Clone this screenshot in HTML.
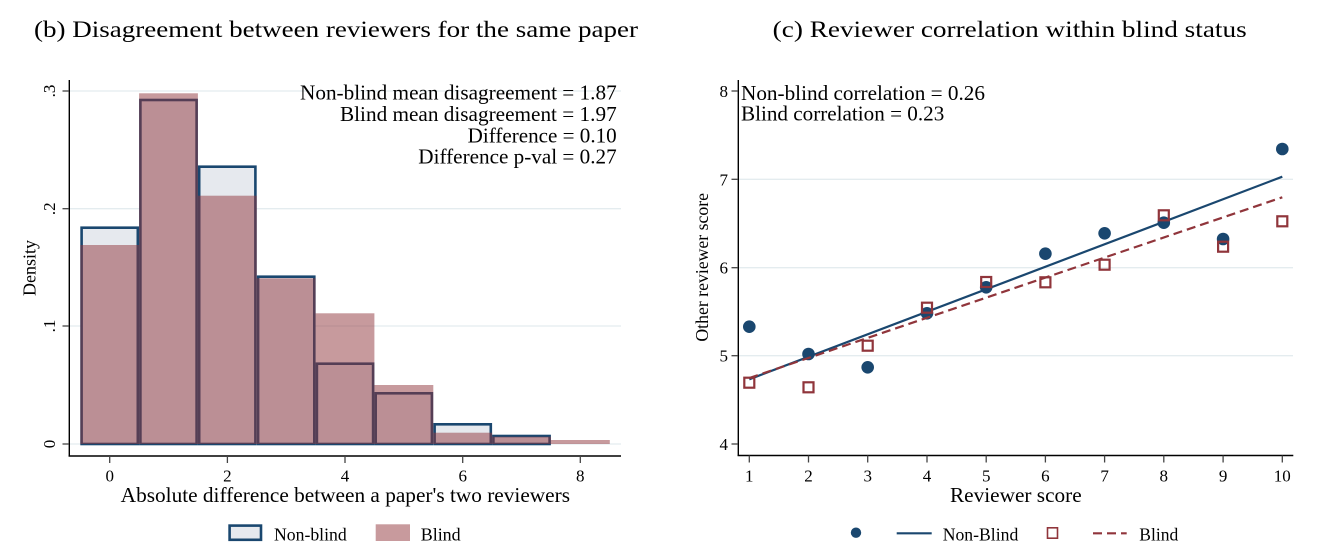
<!DOCTYPE html>
<html><head><meta charset="utf-8"><style>
html,body{margin:0;padding:0;background:#fff;}
svg{display:block;}
text{font-family:"Liberation Serif","DejaVu Serif",serif;fill:#000;}
</style></head><body>
<svg width="1334" height="550" viewBox="0 0 1334 550" xmlns="http://www.w3.org/2000/svg">
<rect width="1334" height="550" fill="#fff"/>

<!-- Titles -->
<text x="34" y="37" font-size="23" textLength="604" lengthAdjust="spacingAndGlyphs">(b) Disagreement between reviewers for the same paper</text>
<text x="772.7" y="37" font-size="23" textLength="474" lengthAdjust="spacingAndGlyphs">(c) Reviewer correlation within blind status</text>

<!-- ===== LEFT PANEL ===== -->
<g stroke="#e4ecef" stroke-width="1.3">
<line x1="70" y1="91" x2="621" y2="91"/>
<line x1="70" y1="208.7" x2="621" y2="208.7"/>
<line x1="70" y1="326" x2="621" y2="326"/>
<line x1="70" y1="444" x2="621" y2="444"/>
</g>

<!-- Non-blind bars -->
<g fill="#e6e9ee" stroke="#1a476f" stroke-width="2.6">
<rect x="81.6" y="227.7" width="56.2" height="216.3"/>
<rect x="140.4" y="100" width="56.2" height="344"/>
<rect x="199.2" y="166.7" width="56.2" height="277.3"/>
<rect x="258.1" y="276.7" width="56.2" height="167.3"/>
<rect x="316.9" y="363.7" width="56.2" height="80.3"/>
<rect x="375.7" y="393.3" width="56.2" height="50.7"/>
<rect x="434.6" y="424.3" width="56.2" height="19.7"/>
<rect x="493.4" y="436" width="56.2" height="8"/>
</g>
<!-- Blind bars -->
<g fill="#90353b" fill-opacity="0.5">
<rect x="80.3" y="245" width="58.8" height="199"/>
<rect x="139.1" y="93.3" width="58.8" height="350.7"/>
<rect x="197.9" y="195.7" width="58.9" height="248.3"/>
<rect x="256.8" y="278.3" width="58.8" height="165.7"/>
<rect x="315.6" y="313.3" width="58.8" height="130.7"/>
<rect x="374.4" y="385" width="58.9" height="59"/>
<rect x="433.3" y="432.7" width="58.8" height="11.3"/>
<rect x="492.1" y="436.7" width="58.8" height="7.3"/>
<rect x="550.9" y="440" width="58.9" height="4"/>
</g>

<!-- Left axes -->
<g stroke="#000" stroke-width="1.4" fill="none">
<line x1="69.3" y1="80" x2="69.3" y2="456.5"/>
<line x1="68.6" y1="456" x2="621" y2="456"/>
</g>
<g stroke="#444" stroke-width="1.3">
<line x1="62.5" y1="91" x2="69" y2="91"/>
<line x1="62.5" y1="208.7" x2="69" y2="208.7"/>
<line x1="62.5" y1="326" x2="69" y2="326"/>
<line x1="62.5" y1="444" x2="69" y2="444"/>
<line x1="109.7" y1="456" x2="109.7" y2="463"/>
<line x1="227.4" y1="456" x2="227.4" y2="463"/>
<line x1="345" y1="456" x2="345" y2="463"/>
<line x1="462.7" y1="456" x2="462.7" y2="463"/>
<line x1="580.3" y1="456" x2="580.3" y2="463"/>
</g>
<g font-size="17" text-anchor="middle">
<text transform="translate(55,91) rotate(-90)">.3</text>
<text transform="translate(55,208.7) rotate(-90)">.2</text>
<text transform="translate(55,326) rotate(-90)">.1</text>
<text transform="translate(55,444) rotate(-90)">0</text>
<text x="109.7" y="481.5">0</text>
<text x="227.4" y="481.5">2</text>
<text x="345" y="481.5">4</text>
<text x="462.7" y="481.5">6</text>
<text x="580.3" y="481.5">8</text>
</g>
<text transform="translate(35.5,268) rotate(-90)" font-size="18" text-anchor="middle" textLength="56" lengthAdjust="spacingAndGlyphs">Density</text>
<text x="120.7" y="502" font-size="21" textLength="449.3" lengthAdjust="spacingAndGlyphs">Absolute difference between a paper's two reviewers</text>

<!-- Left annotation -->
<g font-size="21">
<text x="300" y="99.3" textLength="316.7" lengthAdjust="spacingAndGlyphs">Non-blind mean disagreement = 1.87</text>
<text x="340" y="121" textLength="276.7" lengthAdjust="spacingAndGlyphs">Blind mean disagreement = 1.97</text>
<text x="467.7" y="142.3" textLength="149" lengthAdjust="spacingAndGlyphs">Difference = 0.10</text>
<text x="418.3" y="163.3" textLength="198.4" lengthAdjust="spacingAndGlyphs">Difference p-val = 0.27</text>
</g>

<!-- Left legend -->
<rect x="229.6" y="525.6" width="31.4" height="14.2" fill="#e6e9ee" stroke="#1a476f" stroke-width="2.6"/>
<text x="274" y="540.5" font-size="18" textLength="72.7" lengthAdjust="spacingAndGlyphs">Non-blind</text>
<rect x="375.7" y="524.3" width="34.3" height="16.7" fill="#c89a9d"/>
<text x="420.7" y="540.5" font-size="18" textLength="40" lengthAdjust="spacingAndGlyphs">Blind</text>

<!-- ===== RIGHT PANEL ===== -->
<g stroke="#e4ecef" stroke-width="1.3">
<line x1="739" y1="179.3" x2="1293" y2="179.3"/>
<line x1="739" y1="267.7" x2="1293" y2="267.7"/>
<line x1="739" y1="355.7" x2="1293" y2="355.7"/>
</g>

<!-- Non-blind points -->
<g fill="#1a476f">
<circle cx="749.3" cy="326.7" r="6.3"/>
<circle cx="808.5" cy="354" r="6.3"/>
<circle cx="867.7" cy="367.3" r="6.3"/>
<circle cx="927" cy="313.3" r="6.3"/>
<circle cx="986.2" cy="287.3" r="6.3"/>
<circle cx="1045.4" cy="253.7" r="6.3"/>
<circle cx="1104.6" cy="233.3" r="6.3"/>
<circle cx="1163.8" cy="222.7" r="6.3"/>
<circle cx="1223.1" cy="239" r="6.3"/>
<circle cx="1282.3" cy="149" r="6.3"/>
</g>
<line x1="749.3" y1="379.3" x2="1282.3" y2="176.7" stroke="#1a476f" stroke-width="2.2"/>
<!-- Blind points -->
<g fill="none" stroke="#90353b" stroke-width="2.2">
<rect x="744.3" y="377.7" width="10" height="10"/>
<rect x="803.5" y="382.3" width="10" height="10"/>
<rect x="862.7" y="340.7" width="10" height="10"/>
<rect x="922" y="302.7" width="10" height="10"/>
<rect x="981.2" y="277" width="10" height="10"/>
<rect x="1040.4" y="277.3" width="10" height="10"/>
<rect x="1099.6" y="259.7" width="10" height="10"/>
<rect x="1158.8" y="210.3" width="10" height="10"/>
<rect x="1218.1" y="241.7" width="10" height="10"/>
<rect x="1277.3" y="216.3" width="10" height="10"/>
</g>
<line x1="749.3" y1="378" x2="1282.3" y2="197.3" stroke="#90353b" stroke-width="2.2" stroke-dasharray="9,5"/>

<!-- Right axes -->
<g stroke="#000" stroke-width="1.4" fill="none">
<line x1="738.3" y1="80" x2="738.3" y2="456"/>
<line x1="737.6" y1="455.5" x2="1293.3" y2="455.5"/>
</g>
<g stroke="#444" stroke-width="1.3">
<line x1="731.5" y1="91" x2="738" y2="91"/>
<line x1="731.5" y1="179.3" x2="738" y2="179.3"/>
<line x1="731.5" y1="267.7" x2="738" y2="267.7"/>
<line x1="731.5" y1="355.7" x2="738" y2="355.7"/>
<line x1="731.5" y1="444" x2="738" y2="444"/>
<line x1="749.3" y1="455.5" x2="749.3" y2="462.5"/>
<line x1="808.5" y1="455.5" x2="808.5" y2="462.5"/>
<line x1="867.7" y1="455.5" x2="867.7" y2="462.5"/>
<line x1="927" y1="455.5" x2="927" y2="462.5"/>
<line x1="986.2" y1="455.5" x2="986.2" y2="462.5"/>
<line x1="1045.4" y1="455.5" x2="1045.4" y2="462.5"/>
<line x1="1104.6" y1="455.5" x2="1104.6" y2="462.5"/>
<line x1="1163.8" y1="455.5" x2="1163.8" y2="462.5"/>
<line x1="1223.1" y1="455.5" x2="1223.1" y2="462.5"/>
<line x1="1282.3" y1="455.5" x2="1282.3" y2="462.5"/>
</g>
<g font-size="17" text-anchor="end">
<text x="728" y="97">8</text>
<text x="728" y="185.3">7</text>
<text x="728" y="273.7">6</text>
<text x="728" y="361.7">5</text>
<text x="728" y="450">4</text>
</g>
<g font-size="17" text-anchor="middle">
<text x="749.3" y="481.5">1</text>
<text x="808.5" y="481.5">2</text>
<text x="867.7" y="481.5">3</text>
<text x="927" y="481.5">4</text>
<text x="986.2" y="481.5">5</text>
<text x="1045.4" y="481.5">6</text>
<text x="1104.6" y="481.5">7</text>
<text x="1163.8" y="481.5">8</text>
<text x="1223.1" y="481.5">9</text>
<text x="1282.3" y="481.5">10</text>
</g>
<text transform="translate(708,267.3) rotate(-90)" font-size="18" text-anchor="middle" textLength="148.7" lengthAdjust="spacingAndGlyphs">Other reviewer score</text>
<text x="950" y="502" font-size="21" textLength="131.7" lengthAdjust="spacingAndGlyphs">Reviewer score</text>

<!-- Right annotation -->
<g font-size="21">
<text x="741" y="100" textLength="244" lengthAdjust="spacingAndGlyphs">Non-blind correlation = 0.26</text>
<text x="741" y="120.7" textLength="203.3" lengthAdjust="spacingAndGlyphs">Blind correlation = 0.23</text>
</g>

<!-- Right legend -->
<circle cx="856" cy="532.7" r="5.2" fill="#1a476f"/>
<line x1="896.7" y1="533.3" x2="931.7" y2="533.3" stroke="#1a476f" stroke-width="2.2"/>
<text x="942.7" y="540.5" font-size="18" textLength="75.6" lengthAdjust="spacingAndGlyphs">Non-Blind</text>
<rect x="1047.5" y="527.8" width="10" height="10.4" fill="none" stroke="#90353b" stroke-width="1.6"/>
<line x1="1093" y1="533.3" x2="1126.7" y2="533.3" stroke="#90353b" stroke-width="2.2" stroke-dasharray="9,5"/>
<text x="1139.3" y="540.5" font-size="18" textLength="39" lengthAdjust="spacingAndGlyphs">Blind</text>
</svg>
</body></html>
